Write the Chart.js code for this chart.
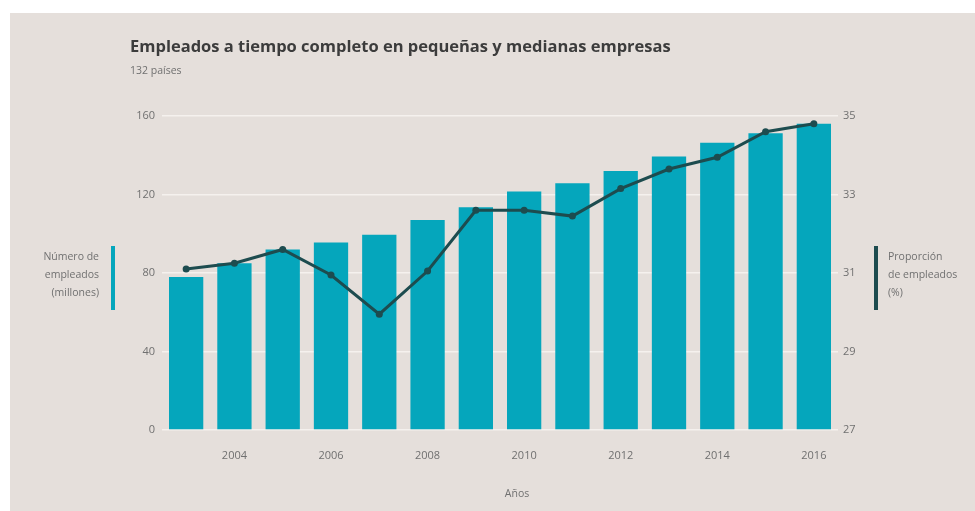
<!DOCTYPE html>
<html>
<head>
<meta charset="utf-8">
<script src="https://cdn.jsdelivr.net/npm/chart.js@4/dist/chart.umd.min.js"></script>
<style>
  html, body { margin: 0; padding: 0; background: #ffffff; }
  #wrap { width: 975px; height: 511px; position: relative; }
</style>
</head>
<body>
<div id="wrap"><canvas id="c" width="975" height="511"></canvas></div>
<script>
const years = ['2003','2004','2005','2006','2007','2008','2009','2010','2011','2012','2013','2014','2015','2016'];
const employees = [78, 85, 92, 95.5, 99.5, 107, 113.5, 121.5, 125.7, 132, 139.3, 146.4, 151.2, 156];
const share = [31.1, 31.25, 31.6, 30.95, 29.95, 31.05, 32.6, 32.6, 32.45, 33.15, 33.65, 33.95, 34.6, 34.8];
const leftTicks = [0, 40, 80, 120, 160];
const rightTicks = [27, 29, 31, 33, 35];
const titleText = 'Empleados a tiempo completo en pequeñas y medianas empresas';
const subtitleText = '132 países';
const leftAxisLines = ['Número de', 'empleados', '(millones)'];
const rightAxisLines = ['Proporción', 'de empleados', '(%)'];
const xAxisTitle = 'Años';

const BG = 'rgb(229,223,219)';
const BAR = 'rgb(5,166,188)';
const LINE = 'rgb(29,76,79)';
const TEXT = '#707070';
const FONT = '"Open Sans", "DejaVu Sans", sans-serif';

const decor = {
  id: 'decor',
  beforeDraw(chart) {
    const ctx = chart.ctx;
    ctx.save();
    ctx.fillStyle = '#ffffff';
    ctx.fillRect(0, 0, chart.width, chart.height);
    ctx.fillStyle = BG;
    ctx.fillRect(10, 13, chart.width - 10, chart.height - 13);
    ctx.restore();
  },
  afterDraw(chart) {
    const ctx = chart.ctx;
    const ca = chart.chartArea;
    ctx.save();
    ctx.textBaseline = 'middle';
    ctx.fillStyle = '#3c3c3c';
    ctx.font = 'bold 16.5px ' + FONT;
    ctx.textAlign = 'left';
    ctx.fillText(titleText, 130, 47);
    ctx.fillStyle = TEXT;
    ctx.font = '10.5px ' + FONT;
    ctx.fillText(subtitleText, 130, 71);

    // left axis label
    ctx.font = '10.5px ' + FONT;
    ctx.textAlign = 'right';
    leftAxisLines.forEach((t, i) => ctx.fillText(t, 99, 257 + i * 18));
    ctx.fillStyle = BAR;
    ctx.fillRect(111, 246, 4, 64);
    // right axis label
    ctx.fillStyle = TEXT;
    ctx.textAlign = 'left';
    rightAxisLines.forEach((t, i) => ctx.fillText(t, 888, 257 + i * 18));
    ctx.fillStyle = LINE;
    ctx.fillRect(874, 246, 4, 64);
    // x axis title
    ctx.fillStyle = TEXT;
    ctx.textAlign = 'center';
    ctx.font = '10.5px ' + FONT;
    ctx.fillText(xAxisTitle, 517, 494);
    ctx.restore();
  }
};

new Chart(document.getElementById('c'), {
  data: {
    labels: years,
    datasets: [
      {
        type: 'line',
        label: 'Proporción de empleados (%)',
        data: share,
        yAxisID: 'y1',
        borderColor: LINE,
        backgroundColor: LINE,
        borderWidth: 3,
        pointRadius: 3.5,
        pointBackgroundColor: LINE,
        pointBorderWidth: 0,
        tension: 0,
        order: 0
      },
      {
        type: 'bar',
        label: 'Número de empleados (millones)',
        data: employees,
        yAxisID: 'y',
        backgroundColor: BAR,
        borderWidth: 0,
        categoryPercentage: 1,
        barPercentage: 0.71,
        order: 1
      }
    ]
  },
  options: {
    responsive: false,
    animation: false,
    events: [],
    layout: { padding: { left: 102, right: 97, top: 116, bottom: 51 } },
    plugins: { legend: { display: false }, tooltip: { enabled: false } },
    scales: {
      x: {
        offset: true,
        grid: { display: false, drawTicks: false },
        border: { display: false },
        afterFit(s) { s.height = 30; },
        ticks: {
          autoSkip: false,
          maxRotation: 0,
          padding: 19,
          color: TEXT,
          font: { family: FONT, size: 11 },
          callback(v, i) { return i % 2 === 1 ? years[i] : ''; }
        }
      },
      y: {
        position: 'left',
        min: 0, max: 160,
        afterBuildTicks(s) { s.ticks = leftTicks.map(v => ({ value: v })); },
        afterFit(s) { s.width = 60; },
        grid: { color: 'rgba(246,243,240,0.9)', lineWidth: 1.5, drawTicks: false },
        border: { display: false },
        ticks: { padding: 7, color: TEXT, font: { family: FONT, size: 11 } }
      },
      y1: {
        position: 'right',
        min: 27, max: 35,
        afterBuildTicks(s) { s.ticks = rightTicks.map(v => ({ value: v })); },
        afterFit(s) { s.width = 40; },
        grid: { display: false, drawTicks: false },
        border: { display: false },
        ticks: { padding: 5, color: TEXT, font: { family: FONT, size: 11 } }
      }
    }
  },
  plugins: [decor]
});
</script>
</body>
</html>
